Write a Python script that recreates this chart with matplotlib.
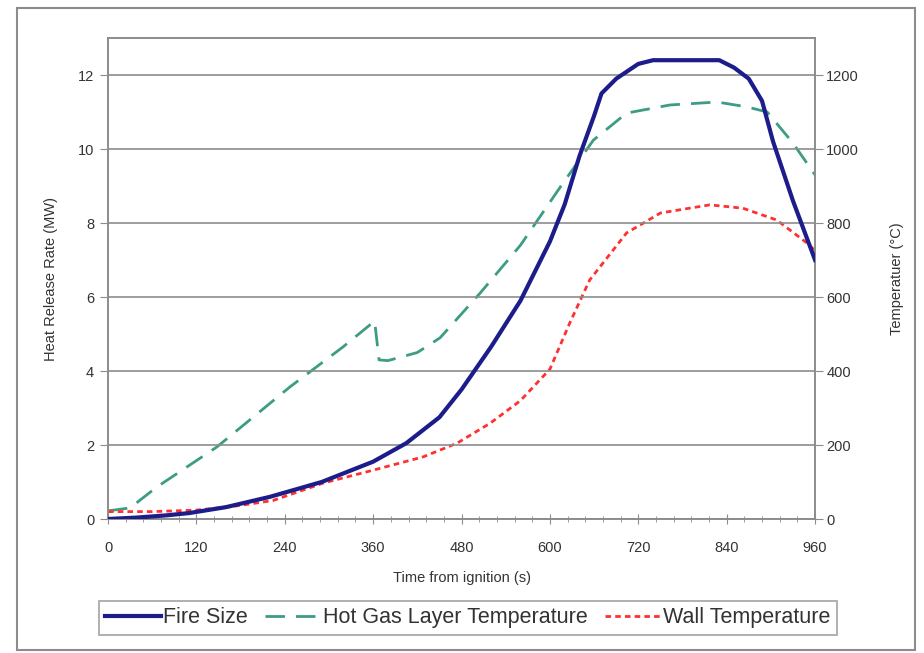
import numpy as np
import matplotlib.pyplot as plt
from matplotlib.patches import Rectangle
from matplotlib.ticker import MultipleLocator

plt.rcParams['font.family'] = ['Liberation Sans', 'DejaVu Sans']

# fire size (MW)
t_fire = [0, 40, 80, 110, 160, 220, 290, 360, 405, 450, 480, 520, 560, 600, 620,
          640, 660, 670, 690, 720, 740, 830, 850, 870, 888, 903, 930, 960]
fire = [0.0, 0.04, 0.1, 0.16, 0.32, 0.6, 1.0, 1.55, 2.05, 2.75, 3.5, 4.65, 5.9, 7.5, 8.5,
        9.8, 10.9, 11.5, 11.9, 12.3, 12.4, 12.4, 12.2, 11.9, 11.3, 10.2, 8.6, 7.0]

# hot gas layer temperature (C)
t_gas = [0, 30, 66, 148, 247, 319, 362, 368, 380, 420, 451, 505, 560, 614, 659, 704,
         763, 827, 867, 895, 930, 960]
gas = [22, 30, 86, 195, 357, 465, 535, 430, 428, 450, 490, 610, 740, 897, 1024, 1097,
       1119, 1127, 1114, 1100, 1016, 930]

# wall temperature (C)
t_wall = [0, 60, 120, 170, 224, 292, 360, 428, 474, 519, 560, 600, 627, 654, 704, 750,
          817, 862, 908, 949, 960]
wall = [20, 20, 24, 34, 50, 97, 132, 168, 205, 259, 320, 405, 530, 646, 773, 827,
        849, 840, 808, 746, 725]

x_ticks = [0, 120, 240, 360, 480, 600, 720, 840, 960]

fig = plt.figure(figsize=(9.24, 6.53), dpi=100)
ax = fig.add_axes([0.1169, 0.2052, 0.7652, 0.7366])
ax2 = ax.twinx()

grey = '#8c8c8c'
txt_c = '#333333'

l1, = ax.plot(t_fire, fire, color='#1c1c8a', lw=3, solid_joinstyle='round', zorder=5)
l2, = ax2.plot(t_gas, gas, color='#3d9c84', lw=2, dashes=(7, 4))
l3, = ax2.plot(t_wall, wall, color='#ff3030', lw=2, dashes=(2, 1.5))

ax.set_zorder(ax2.get_zorder() + 1)
ax.patch.set_visible(False)

ax.set_xlim(0, 960)
ax.set_ylim(0, 13)
ax2.set_ylim(0, 1300)
ax.set_xticks(x_ticks)
ax.xaxis.set_minor_locator(MultipleLocator(24))
ax.set_yticks(range(0, 13, 2))
ax2.set_yticks(range(0, 1300, 200))
ax.grid(axis='y', color=grey, lw=1.2)
ax.set_axisbelow(True)

for a in (ax, ax2):
    for s in a.spines.values():
        s.set_color(grey)
        s.set_linewidth(1.2)
ax.tick_params(axis='x', which='major', direction='inout', length=7, color=grey,
               labelsize=10.5, labelcolor=txt_c, pad=12)
ax.tick_params(axis='x', which='minor', direction='inout', length=4, color=grey)
ax.tick_params(axis='y', direction='out', length=6, color=grey, labelsize=10.5,
               labelcolor=txt_c, pad=4)
ax2.tick_params(axis='y', direction='out', length=6, color=grey, labelsize=10.5,
                labelcolor=txt_c, pad=2)

ax.set_xlabel('Time from ignition (s)', fontsize=10.5, color=txt_c, labelpad=12)
ax.set_ylabel('Heat Release Rate (MW)', fontsize=10.5, color=txt_c, labelpad=14)
ax2.set_ylabel('Temperatuer (°C)', fontsize=10.5, color=txt_c, labelpad=22)

leg = fig.legend([l1, l2, l3], ['Fire Size', 'Hot Gas Layer Temperature', 'Wall Temperature'],
                 loc='center', bbox_to_anchor=(0.5065, 0.0536), ncol=3, fontsize=15.5,
                 frameon=True, fancybox=False, handlelength=2.6, handletextpad=0.1,
                 columnspacing=0.8, borderpad=0.3)
leg.get_frame().set_edgecolor(grey)
leg.get_frame().set_linewidth(1.2)
for txt in leg.get_texts():
    txt.set_color(txt_c)

fig.patches.append(Rectangle((17 / 924, 3 / 653), 898 / 924, 642 / 653, transform=fig.transFigure,
                             fill=False, edgecolor=grey, lw=1.5))

fig.savefig('out.png', dpi=100)
